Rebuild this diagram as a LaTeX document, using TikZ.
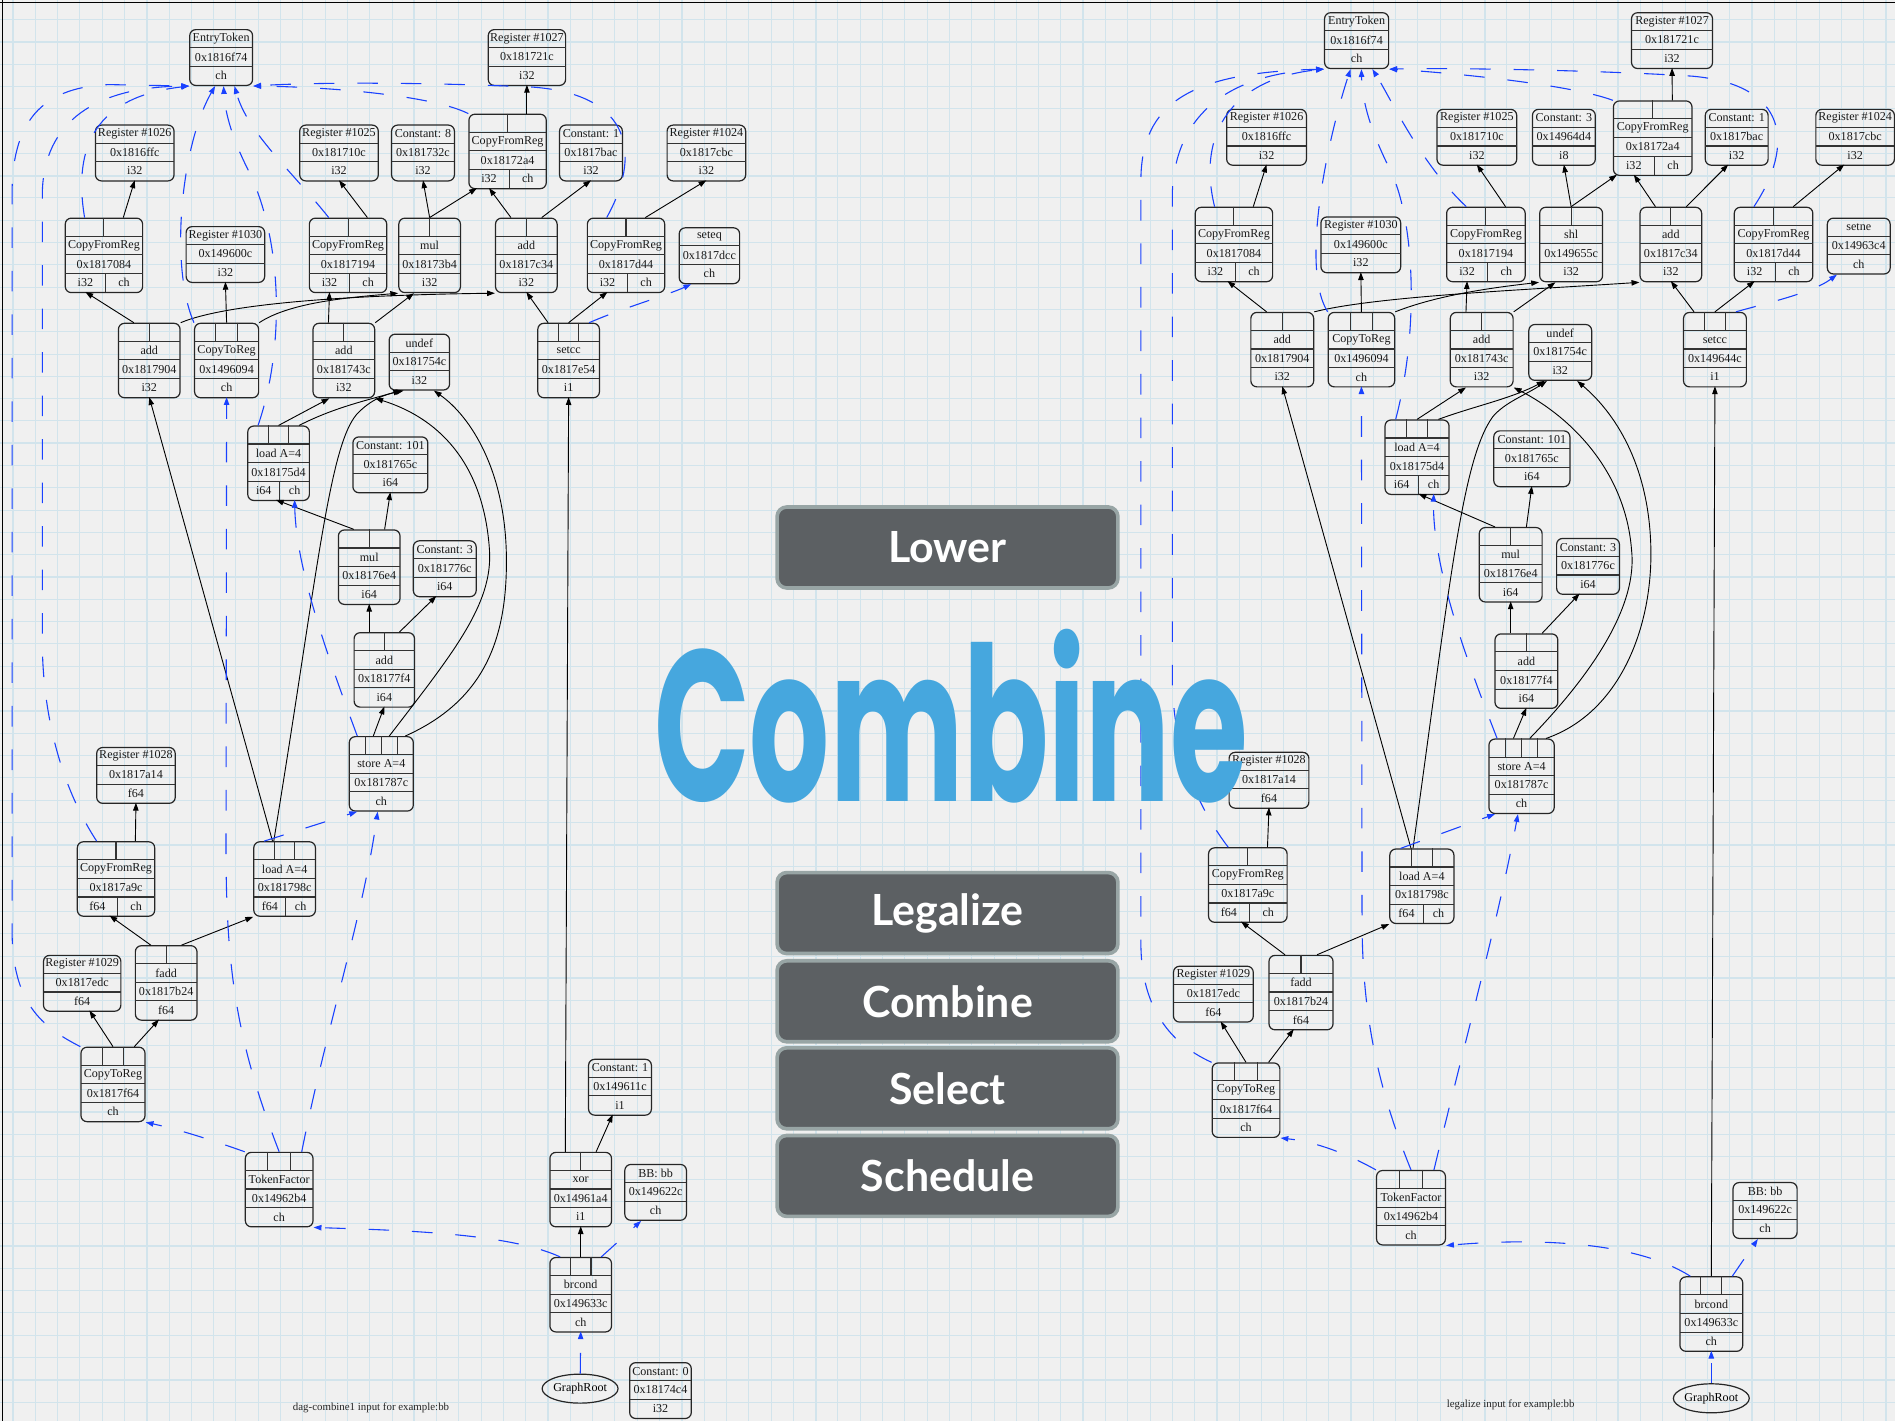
\documentclass[tikz,border=0pt]{standalone}
\usepackage{fontspec}
\usepackage{graphicx}
\usepackage{xcolor}
\usetikzlibrary{arrows.meta,shapes.geometric}
\setmainfont{Liberation Serif}
\newfontfamily\stagefont{Lato}
\newfontfamily\titlefont{Poppins}

\definecolor{paperbg}{RGB}{240,240,240}
\definecolor{gridblue}{RGB}{210,228,236}
\definecolor{chainblue}{RGB}{25,65,255}
\definecolor{btnfill}{RGB}{92,96,99}
\definecolor{btnedge}{RGB}{152,165,165}
\definecolor{titleblue}{RGB}{70,167,222}

\tikzset{
  dagbox/.style={draw=black!85, line width=1pt, rounded corners=5pt, inner sep=0pt},
  sepline/.style={draw=black!80, line width=0.9pt},
  dagtext/.style={font=\fontsize{10}{11}\selectfont, inner sep=0pt, text=black!90},
  rootnode/.style={draw=black!85, line width=1pt, ellipse, minimum width=58, minimum height=24, inner sep=0pt, font=\fontsize{10}{11}\selectfont},
  captiontext/.style={font=\fontsize{9}{10}\selectfont, text=black!85, inner sep=0pt},
  dataedge/.style={draw=black, line width=0.75pt, -{Triangle[length=6.5pt,width=4.5pt]}},
  chainedge/.style={draw=chainblue, line width=0.9pt, dash pattern=on 17pt off 19pt, -{Triangle[length=6.5pt,width=4.5pt]}},
  stage/.style={draw=btnedge, line width=3pt, fill=btnfill, rounded corners=8pt, minimum width=282, minimum height=67, text=white, font=\stagefont\bfseries\fontsize{35.5}{38}\selectfont},
}

\newcommand{\rowh}{15.4}
% record node: name, x centre, top y, width, input cells, op, address, type, second type
\newcommand{\dagnode}[9]{%
  \pgfmathtruncatemacro{\dnin}{#5}%
  \pgfmathtruncatemacro{\dnrow}{\dnin>0 ? 4 : 3}%
  \pgfmathtruncatemacro{\dnrm}{\dnrow-1}%
  \pgfmathsetmacro{\dnxl}{#2-#4/2}%
  \pgfmathsetmacro{\dnyb}{#3+\dnrow*\rowh}%
  \node[dagbox, minimum width=#4, minimum height=\dnrow*\rowh, anchor=north] (#1) at (#2,#3) {};
  \foreach \k in {1,...,\dnrm}
    \draw[sepline] (\dnxl,{#3+\k*\rowh}) -- ({\dnxl+#4},{#3+\k*\rowh});
  \ifnum\dnin>0
    \pgfmathtruncatemacro{\dnd}{\dnin-1}%
    \foreach \j in {1,...,\dnd}
      \draw[sepline] ({\dnxl+\j*#4/\dnin},#3) -- ({\dnxl+\j*#4/\dnin},{#3+\rowh});
    \foreach \j in {1,...,\dnin}
      \coordinate (#1-i\j) at ({\dnxl+(\j-0.5)*#4/\dnin},#3);
  \fi
  \node[dagtext] (#1-op) at (#2,{\dnyb-2.5*\rowh}) {#6};
  \node[dagtext] (#1-ad) at (#2,{\dnyb-1.5*\rowh}) {#7};
  \if\relax\detokenize{#9}\relax
    \node[dagtext] (#1-t1) at (#2,{\dnyb-0.5*\rowh}) {#8};
    \coordinate (#1-o1) at (#2,\dnyb);
  \else
    \draw[sepline] ({\dnxl+0.52*#4},{\dnyb-\rowh}) -- ({\dnxl+0.52*#4},\dnyb);
    \node[dagtext] (#1-t1) at ({\dnxl+0.26*#4},{\dnyb-0.5*\rowh}) {#8};
    \node[dagtext] (#1-t2) at ({\dnxl+0.76*#4},{\dnyb-0.5*\rowh}) {#9};
    \coordinate (#1-o1) at ({\dnxl+0.26*#4},\dnyb);
    \coordinate (#1-o2) at ({\dnxl+0.76*#4},\dnyb);
  \fi
}

\begin{document}
\begin{tikzpicture}[x=1pt, y=-1pt]
  \useasboundingbox (0,0) rectangle (1568,1176);

  % Grid paper
  \fill[paperbg] (0,0) rectangle (1568,1176);
  \foreach \gx in {10.7,29.15,...,1568} \draw[gridblue, line width=0.8pt] (\gx,0) -- (\gx,1176);
  \foreach \gy in {16.2,34.65,...,1176} \draw[gridblue, line width=0.8pt] (0,\gy) -- (1568,\gy);
  \foreach \gx in {10.7,121.4,...,1568} \draw[gridblue, line width=1.5pt] (\gx,0) -- (\gx,1176);
  \foreach \gy in {34.65,145.35,...,1176} \draw[gridblue, line width=1.5pt] (0,\gy) -- (1568,\gy);
  \draw[line width=1.2pt] (0,2) -- (1568,2);
  \draw[line width=1.2pt] (2,0) -- (2,1176);

  % Left DAG: dag-combine1 input
  \dagnode{LEntry}{183}{24}{52}{0}{EntryToken}{0x1816f74}{ch}{}
  \dagnode{LReg1027}{436}{24}{64}{0}{Register \#1027}{0x181721c}{i32}{}
  \dagnode{LReg1026}{111.5}{103}{65}{0}{Register \#1026}{0x1816ffc}{i32}{}
  \dagnode{LReg1025}{280.5}{103}{65}{0}{Register \#1025}{0x181710c}{i32}{}
  \dagnode{LConst8}{350}{103}{52}{0}{Constant: 8}{0x181732c}{i32}{}
  \dagnode{LCfr2a4}{420}{94}{64}{2}{CopyFromReg}{0x18172a4}{i32}{ch}
  \dagnode{LConst1}{489}{103}{52}{0}{Constant: 1}{0x1817bac}{i32}{}
  \dagnode{LReg1024}{584.5}{103}{65}{0}{Register \#1024}{0x1817cbc}{i32}{}
  \dagnode{LCfr084}{86}{180}{64}{2}{CopyFromReg}{0x1817084}{i32}{ch}
  \dagnode{LReg1030}{186.5}{187}{65}{0}{Register \#1030}{0x149600c}{i32}{}
  \dagnode{LCfr194}{288}{180}{64}{2}{CopyFromReg}{0x1817194}{i32}{ch}
  \dagnode{LMul3b4}{355.5}{180}{51}{2}{mul}{0x18173b4}{i32}{}
  \dagnode{LAddc34}{435.5}{180}{51}{2}{add}{0x1817c34}{i32}{}
  \dagnode{LCfrd44}{518}{180}{64}{2}{CopyFromReg}{0x1817d44}{i32}{ch}
  \dagnode{LSeteq}{587}{188}{50}{0}{seteq}{0x1817dcc}{ch}{}
  \dagnode{LAdd904}{123.5}{267}{51}{2}{add}{0x1817904}{i32}{}
  \dagnode{LCtr094}{187.5}{267}{53}{3}{CopyToReg}{0x1496094}{ch}{}
  \dagnode{LAdd43c}{284.5}{267}{51}{2}{add}{0x181743c}{i32}{}
  \dagnode{LUndef}{347}{276}{50}{0}{undef}{0x181754c}{i32}{}
  \dagnode{LSetcc}{470.5}{267}{51}{3}{setcc}{0x1817e54}{i1}{}
  \dagnode{LLoad5d4}{230.5}{352}{51}{3}{load A=4}{0x18175d4}{i64}{ch}
  \dagnode{LConst101}{323}{361}{62}{0}{Constant: 101}{0x181765c}{i64}{}
  \dagnode{LMul6e4}{305.5}{438}{51}{2}{mul}{0x18176e4}{i64}{}
  \dagnode{LConst3}{368}{447}{52}{0}{Constant: 3}{0x181776c}{i64}{}
  \dagnode{LAdd7f4}{318}{523}{50}{2}{add}{0x18177f4}{i64}{}
  \dagnode{LStore}{315.5}{609}{53}{4}{store A=4}{0x181787c}{ch}{}
  \dagnode{LReg1028}{112.5}{618}{65}{0}{Register \#1028}{0x1817a14}{f64}{}
  \dagnode{LCfra9c}{96}{696}{64}{2}{CopyFromReg}{0x1817a9c}{f64}{ch}
  \dagnode{LLoad98c}{235.5}{696}{51}{3}{load A=4}{0x181798c}{f64}{ch}
  \dagnode{LReg1029}{68}{790}{64}{0}{Register \#1029}{0x1817edc}{f64}{}
  \dagnode{LFadd}{137.5}{782}{51}{2}{fadd}{0x1817b24}{f64}{}
  \dagnode{LCtrf64}{93.5}{866}{53}{3}{CopyToReg}{0x1817f64}{ch}{}
  \dagnode{LConst1b}{513}{876}{52}{0}{Constant: 1}{0x149611c}{i1}{}
  \dagnode{LTokfac}{231}{953}{56}{3}{TokenFactor}{0x14962b4}{ch}{}
  \dagnode{LXor}{480.5}{953}{51}{2}{xor}{0x14961a4}{i1}{}
  \dagnode{LBB}{542.5}{963}{51}{0}{BB: bb}{0x149622c}{ch}{}
  \dagnode{LBrcond}{480.5}{1040}{51}{3}{brcond}{0x149633c}{ch}{}
  \dagnode{LConst0}{546.5}{1127}{51}{0}{Constant: 0}{0x18174c4}{i32}{}
  \node[rootnode] (LRoot) at (480,1149) {GraphRoot};
  \node[captiontext] (LCaption) at (307,1165) {dag-combine1 input for example:bb};

  % Left DAG: data edges
  \draw[dataedge] (LCfr2a4-i2) -- (LReg1027-o1);
  \draw[dataedge] (LCfr084-i2) -- (LReg1026-o1);
  \draw[dataedge] (LCfr194-i2) -- (LReg1025-o1);
  \draw[dataedge] (LMul3b4.north) -- ([xshift=-10]LCfr2a4-o1);
  \draw[dataedge] (LMul3b4.north) -- (LConst8-o1);
  \draw[dataedge] (LAddc34-i1) -- (LCfr2a4-o1);
  \draw[dataedge] (LAddc34-i2) -- (LConst1-o1);
  \draw[dataedge] (LCfrd44-i2) -- (LReg1024-o1);
  \draw[dataedge] (LAdd904-i1) -- (LCfr084-o1);
  \draw[dataedge] (LAdd904.north east) .. controls (190,250) and (300,244) .. (LAddc34.south west);
  \draw[dataedge] (LCtr094-i2) -- (LReg1030-o1);
  \draw[dataedge] (LCtr094.north east) .. controls (240,250) and (290,246) .. (LMul3b4.south west);
  \draw[dataedge] (LAdd43c-i1) -- (LCfr194-o1);
  \draw[dataedge] (LAdd43c.north east) -- ([xshift=-13]LMul3b4.south);
  \draw[dataedge] (LSetcc-i1) -- (LAddc34-o1);
  \draw[dataedge] (LSetcc-i2) -- (LCfrd44-o1);
  \draw[dataedge] (LLoad5d4-i2) -- ([xshift=-12]LAdd43c.south);
  \draw[dataedge] (LLoad5d4-i3) .. controls (275,338) and (300,332) .. ([xshift=-15]LUndef.south);
  \draw[dataedge] (LMul6e4-i1) -- ([xshift=10]LLoad5d4-o1);
  \draw[dataedge] (LMul6e4-i2) -- (LConst101-o1);
  \draw[dataedge] (LAdd7f4-i1) -- (LMul6e4-o1);
  \draw[dataedge] (LAdd7f4-i2) -- ([xshift=-7]LConst3-o1);
  \draw[dataedge] (LStore-i2) -- (LAdd7f4-o1);
  \draw[dataedge] (LStore-i3) .. controls (375,540) and (408,500) .. (405,455) .. controls (400,380) and (360,345) .. (LAdd43c.south east);
  \draw[dataedge] (LStore-i4) .. controls (400,580) and (420,530) .. (419,460) .. controls (418,390) and (390,345) .. ([xshift=12]LUndef.south);
  \draw[dataedge] (LCfra9c-i2) -- (LReg1028-o1);
  \draw[dataedge] ([xshift=-10]LLoad98c-i2) -- (LAdd904-o1);
  \draw[dataedge] ([xshift=-26]LLoad98c-i3) .. controls (262,480) and (272,370) .. (295,343) .. controls (307,330) and (320,326) .. ([xshift=-13]LUndef.south);
  \draw[dataedge] (LFadd-i1) -- ([xshift=10]LCfra9c-o1);
  \draw[dataedge] (LFadd-i2) -- (LLoad98c.south west);
  \draw[dataedge] (LCtrf64-i2) -- ([xshift=6]LReg1029-o1);
  \draw[dataedge] (LCtrf64-i3) -- ([xshift=-6]LFadd-o1);
  \draw[dataedge] (LBrcond-i2) -- (LXor-o1);
  \draw[dataedge] (LXor-i1) -- (LSetcc-o1);
  \draw[dataedge] (LXor-i2) -- ([xshift=-6]LConst1b-o1);

  % Left DAG: chain edges
  \draw[chainedge] (LSetcc-i3) .. controls (515,255) and (550,245) .. ([xshift=-15]LSeteq.south);
  \draw[chainedge] (LStore-i1) .. controls (270,540) and (245,470) .. (LLoad5d4-o2);
  \draw[chainedge] (LLoad98c-i1) -- ([xshift=-20]LStore.south);
  \draw[chainedge] (LTokfac.north west) .. controls (180,945) and (150,935) .. (LCtrf64.south east);
  \draw[chainedge] (LTokfac-i2) .. controls (195,860) and (187,800) .. (187,700) -- (LCtr094-o1);
  \draw[chainedge] (LTokfac-i3) .. controls (270,850) and (300,760) .. ([xshift=-3]LStore.south);
  \draw[chainedge] (LBrcond-i1) .. controls (420,1020) and (330,1018) .. (LTokfac.south east);
  \draw[chainedge] (LBrcond-i3) -- ([xshift=-12]LBB.south);
  \draw[chainedge] (LRoot) -- (LBrcond-o1);
  \draw[chainedge] (LCtrf64.north west) .. controls (35,850) and (10,830) .. (10,770) -- (10,160) .. controls (10,95) and (40,72) .. (90,70) -- (LEntry.south west);
  \draw[chainedge] (LCfra9c-i1) .. controls (50,650) and (35,590) .. (35,530) -- (35,160) .. controls (36,100) and (80,72) .. (LEntry.south west);
  \draw[chainedge] (LCfr084-i1) .. controls (60,120) and (80,80) .. (LEntry.south west);
  \draw[chainedge] (LCtr094.north west) .. controls (140,220) and (150,120) .. ([xshift=-5]LEntry.south);
  \draw[chainedge] (LLoad5d4-i1) .. controls (235,290) and (235,200) .. (205,140) .. controls (190,110) and (186,90) .. ([xshift=2]LEntry.south);
  \draw[chainedge] (LCfr194-i1) .. controls (240,140) and (205,110) .. ([xshift=11]LEntry.south);
  \draw[chainedge] (LCfr2a4.north west) .. controls (360,80) and (280,72) .. (LEntry.south east);
  \draw[chainedge] (LCfrd44-i1) .. controls (530,130) and (525,78) .. (440,72) .. controls (350,68) and (260,68) .. (LEntry.south east);

  % Right DAG: legalize input
  \dagnode{REntry}{1122.5}{10}{53}{0}{EntryToken}{0x1816f74}{ch}{}
  \dagnode{RReg1027}{1383.5}{10}{67}{0}{Register \#1027}{0x181721c}{i32}{}
  \dagnode{RReg1026}{1048}{90}{66}{0}{Register \#1026}{0x1816ffc}{i32}{}
  \dagnode{RReg1025}{1222}{90}{66}{0}{Register \#1025}{0x181710c}{i32}{}
  \dagnode{RConst3i8}{1294}{90}{52}{0}{Constant: 3}{0x14964d4}{i8}{}
  \dagnode{RCfr2a4}{1367.5}{83}{65}{2}{CopyFromReg}{0x18172a4}{i32}{ch}
  \dagnode{RConst1}{1437}{90}{52}{0}{Constant: 1}{0x1817bac}{i32}{}
  \dagnode{RReg1024}{1535}{90}{65}{0}{Register \#1024}{0x1817cbc}{i32}{}
  \dagnode{RCfr084}{1021}{171}{64}{2}{CopyFromReg}{0x1817084}{i32}{ch}
  \dagnode{RReg1030}{1126}{179}{66}{0}{Register \#1030}{0x149600c}{i32}{}
  \dagnode{RCfr194}{1229.5}{171}{65}{2}{CopyFromReg}{0x1817194}{i32}{ch}
  \dagnode{RShl}{1300}{171}{52}{2}{shl}{0x149655c}{i32}{}
  \dagnode{RAddc34}{1382.5}{171}{51}{2}{add}{0x1817c34}{i32}{}
  \dagnode{RCfrd44}{1467.5}{171}{65}{2}{CopyFromReg}{0x1817d44}{i32}{ch}
  \dagnode{RSetne}{1538}{180}{52}{0}{setne}{0x14963c4}{ch}{}
  \dagnode{RAdd904}{1061}{258}{52}{2}{add}{0x1817904}{i32}{}
  \dagnode{RCtr094}{1126.5}{258}{55}{3}{CopyToReg}{0x1496094}{ch}{}
  \dagnode{RAdd43c}{1226}{258}{52}{2}{add}{0x181743c}{i32}{}
  \dagnode{RUndef}{1291}{268}{52}{0}{undef}{0x181754c}{i32}{}
  \dagnode{RSetcc}{1419}{258}{52}{3}{setcc}{0x149644c}{i1}{}
  \dagnode{RLoad5d4}{1172.5}{347}{53}{3}{load A=4}{0x18175d4}{i64}{ch}
  \dagnode{RConst101}{1267.5}{356}{63}{0}{Constant: 101}{0x181765c}{i64}{}
  \dagnode{RMul6e4}{1250}{436}{52}{2}{mul}{0x18176e4}{i64}{}
  \dagnode{RConst3}{1314}{445}{52}{0}{Constant: 3}{0x181776c}{i64}{}
  \dagnode{RAdd7f4}{1263}{524}{52}{2}{add}{0x18177f4}{i64}{}
  \dagnode{RStore}{1259}{611}{54}{4}{store A=4}{0x181787c}{ch}{}
  \dagnode{RReg1028}{1050}{622}{66}{0}{Register \#1028}{0x1817a14}{f64}{}
  \dagnode{RCfra9c}{1032.5}{701}{65}{2}{CopyFromReg}{0x1817a9c}{f64}{ch}
  \dagnode{RLoad98c}{1176.5}{702}{53}{3}{load A=4}{0x181798c}{f64}{ch}
  \dagnode{RReg1029}{1004}{799}{66}{0}{Register \#1029}{0x1817edc}{f64}{}
  \dagnode{RFadd}{1076.5}{790}{53}{2}{fadd}{0x1817b24}{f64}{}
  \dagnode{RCtrf64}{1031}{879}{56}{3}{CopyToReg}{0x1817f64}{ch}{}
  \dagnode{RTokfac}{1167.5}{968}{57}{3}{TokenFactor}{0x14962b4}{ch}{}
  \dagnode{RBB}{1460.5}{978}{53}{0}{BB: bb}{0x149622c}{ch}{}
  \dagnode{RBrcond}{1416}{1056}{52}{3}{brcond}{0x149633c}{ch}{}
  \node[rootnode] (RRoot) at (1416,1157) {GraphRoot};
  \node[captiontext] (RCaption) at (1250,1162) {legalize input for example:bb};

  % Right DAG: data edges
  \draw[dataedge] (RCfr2a4-i2) -- (RReg1027-o1);
  \draw[dataedge] (RCfr084-i2) -- (RReg1026-o1);
  \draw[dataedge] (RCfr194-i2) -- (RReg1025-o1);
  \draw[dataedge] (RShl.north) -- ([xshift=-14]RCfr2a4-o1);
  \draw[dataedge] (RShl.north) -- (RConst3i8-o1);
  \draw[dataedge] (RAddc34-i1) -- (RCfr2a4-o1);
  \draw[dataedge] (RAddc34-i2) -- ([xshift=-7]RConst1-o1);
  \draw[dataedge] (RCfrd44-i2) -- ([xshift=-9]RReg1024-o1);
  \draw[dataedge] (RAdd904-i1) -- ([xshift=10]RCfr084-o1);
  \draw[dataedge] (RAdd904.north east) .. controls (1140,245) and (1260,240) .. (RAddc34.south west);
  \draw[dataedge] (RCtr094-i2) -- (RReg1030-o1);
  \draw[dataedge] (RCtr094.north east) .. controls (1190,244) and (1235,238) .. (RShl.south west);
  \draw[dataedge] (RAdd43c-i1) -- (RCfr194-o1);
  \draw[dataedge] (RAdd43c.north east) -- ([xshift=-13]RShl.south);
  \draw[dataedge] (RSetcc-i1) -- (RAddc34-o1);
  \draw[dataedge] (RSetcc-i2) -- (RCfrd44-o1);
  \draw[dataedge] (RLoad5d4-i2) -- ([xshift=-13]RAdd43c.south);
  \draw[dataedge] (RLoad5d4-i3) .. controls (1220,336) and (1250,330) .. ([xshift=-13]RUndef.south);
  \draw[dataedge] (RMul6e4-i1) -- ([xshift=14]RLoad5d4-o1);
  \draw[dataedge] (RMul6e4-i2) -- (RConst101-o1);
  \draw[dataedge] (RAdd7f4-i1) -- (RMul6e4-o1);
  \draw[dataedge] (RAdd7f4-i2) -- ([xshift=-7]RConst3-o1);
  \draw[dataedge] (RStore-i2) -- (RAdd7f4-o1);
  \draw[dataedge] (RStore-i3) .. controls (1320,555) and (1355,500) .. (1350,455) .. controls (1345,390) and (1300,345) .. (RAdd43c.south east);
  \draw[dataedge] (RStore-i4) .. controls (1340,590) and (1367,520) .. (1366,455) .. controls (1365,390) and (1340,345) .. ([xshift=14]RUndef.south);
  \draw[dataedge] (RCfra9c-i2) -- (RReg1028-o1);
  \draw[dataedge] ([xshift=-9]RLoad98c-i2) -- (RAdd904-o1);
  \draw[dataedge] ([xshift=-25]RLoad98c-i3) .. controls (1200,480) and (1210,380) .. (1235,345) .. controls (1245,333) and (1262,327) .. ([xshift=-11]RUndef.south);
  \draw[dataedge] (RFadd-i1) -- ([xshift=10]RCfra9c-o1);
  \draw[dataedge] (RFadd-i2) -- (RLoad98c.south west);
  \draw[dataedge] (RCtrf64-i2) -- ([xshift=6]RReg1029-o1);
  \draw[dataedge] (RCtrf64-i3) -- ([xshift=-6]RFadd-o1);
  \draw[dataedge] (RBrcond-i2) -- (RSetcc-o1);

  % Right DAG: chain edges
  \draw[chainedge] (RSetcc-i3) .. controls (1465,250) and (1500,242) .. ([xshift=-18]RSetne.south);
  \draw[chainedge] (RStore-i1) .. controls (1215,550) and (1185,470) .. (RLoad5d4-o2);
  \draw[chainedge] (RLoad98c-i1) -- ([xshift=-22]RStore.south);
  \draw[chainedge] (RTokfac.north west) .. controls (1115,955) and (1090,945) .. (RCtrf64.south east);
  \draw[chainedge] (RTokfac-i2) .. controls (1140,900) and (1127,840) .. (1127,760) -- (RCtr094-o1);
  \draw[chainedge] (RTokfac-i3) .. controls (1210,870) and (1240,760) .. ([xshift=-3]RStore.south);
  \draw[chainedge] (RBrcond-i1) .. controls (1350,1025) and (1260,1025) .. (RTokfac.south east);
  \draw[chainedge] (RBrcond-i3) -- ([xshift=-6]RBB.south);
  \draw[chainedge] (RRoot) -- (RBrcond-o1);
  \draw[chainedge] (RCtrf64.north west) .. controls (965,862) and (944,830) .. (944,780) -- (944,150) .. controls (944,85) and (985,60) .. (REntry.south west);
  \draw[chainedge] (RCfra9c-i1) .. controls (985,660) and (970,610) .. (970,560) -- (970,160) .. controls (972,100) and (1010,62) .. (REntry.south west);
  \draw[chainedge] (RCfr084-i1) .. controls (990,110) and (1020,65) .. (REntry.south west);
  \draw[chainedge] (RCtr094.north west) .. controls (1075,220) and (1100,110) .. ([xshift=-5]REntry.south);
  \draw[chainedge] (RLoad5d4-i1) .. controls (1175,270) and (1170,180) .. (1150,140) .. controls (1135,110) and (1127,85) .. ([xshift=4]REntry.south);
  \draw[chainedge] (RCfr194-i1) .. controls (1175,135) and (1150,80) .. ([xshift=13]REntry.south);
  \draw[chainedge] (RCfr2a4.north west) .. controls (1300,70) and (1200,60) .. (REntry.south east);
  \draw[chainedge] (RCfrd44-i1) .. controls (1485,120) and (1480,70) .. (1400,63) .. controls (1320,58) and (1200,56) .. (REntry.south east);

  % Pass buttons
  \node[stage] (lower) at (784,453) {Lower};
  \node[stage] (legalize) at (784,755.5) {Legalize};
  \node[stage] (combine) at (784,828.5) {Combine};
  \node[stage] (select) at (784,900.5) {Select};
  \node[stage] (schedule) at (784,973) {Schedule};

  % Title
  \node[text=titleblue, inner sep=0pt, font=\titlefont\bfseries\fontsize{178}{178}\selectfont] (title) at (787,593) {\scalebox{0.585}[1]{Combine}};
\end{tikzpicture}
\end{document}
